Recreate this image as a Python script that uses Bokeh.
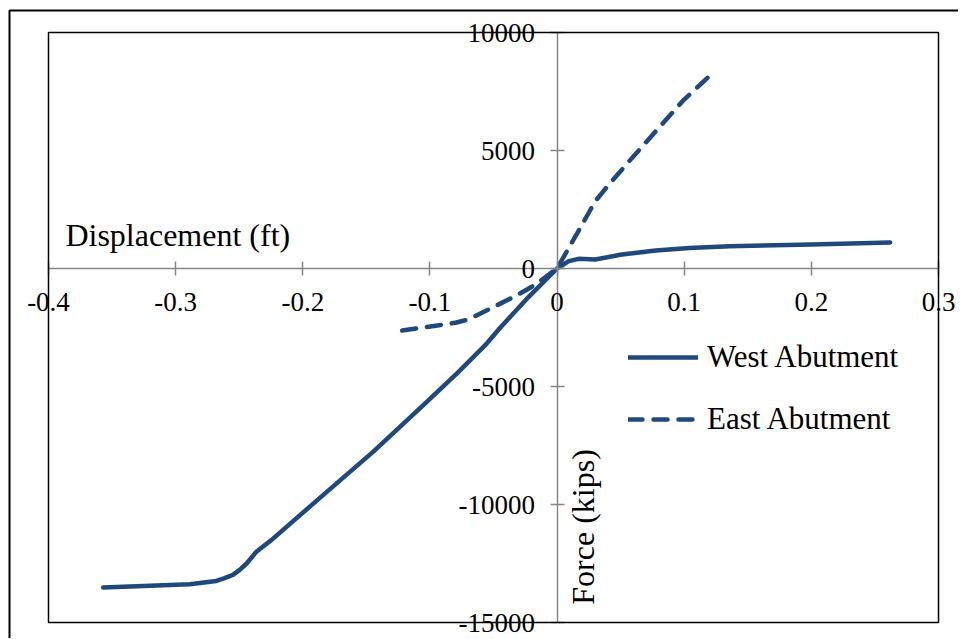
import math
from bokeh.plotting import figure
from bokeh.models import (LinearAxis, FixedTicker, Legend, LegendItem, Label, LabelSet,
                          ColumnDataSource, BoxAnnotation, Range1d)
from bokeh.embed import file_html
from bokeh.resources import INLINE

# ---- data ----
west_disp = [-0.357, -0.315, -0.289, -0.268, -0.262, -0.255, -0.2496, -0.244, -0.2365,
             -0.2245, -0.1836, -0.1443, -0.105, -0.0787, -0.0565, -0.0446, -0.0223, 0.0,
             0.0092, 0.017, 0.030, 0.051, 0.0777, 0.104, 0.1355, 0.2, 0.262]
west_force = [-13520, -13430, -13380, -13240, -13130, -12980, -12770, -12490, -12000,
              -11500, -9580, -7750, -5775, -4440, -3250, -2500, -1200, 0,
              310, 410, 380, 590, 760, 870, 945, 1017, 1100]

east_disp = [-0.1218, -0.080, -0.0697, -0.054, -0.0328, -0.017, 0.0, 0.0092, 0.0197,
             0.030, 0.0408, 0.0566, 0.0777, 0.0987, 0.1197]
east_force = [-2630, -2300, -2160, -1740, -1170, -680, 0, 870, 1860,
              2850, 3560, 4540, 5820, 7090, 8150]

x_ticks = [-0.4, -0.3, -0.2, -0.1, 0.0, 0.1, 0.2, 0.3]
x_tick_labels = ["-0.4", "-0.3", "-0.2", "-0.1", "0", "0.1", "0.2", "0.3"]
y_ticks = [-15000, -10000, -5000, 0, 5000, 10000]
y_tick_labels = ["-15000", "-10000", "-5000", "0", "5000", "10000"]
series_names = ["West Abutment", "East Abutment"]
x_title = "Displacement (ft)"
y_title = "Force (kips)"

X_MIN, X_MAX = x_ticks[0], x_ticks[-1]
Y_MIN, Y_MAX = y_ticks[0], y_ticks[-1]

# ---- layout (pixels on the canvas) ----
CW, CH = 958, 638
PA_L, PA_R, PA_T, PA_B = 48, 938, 32, 622      # plot area box
OUT_L, OUT_T = 9, 10                           # outer chart border

kx = (PA_R - PA_L) / (X_MAX - X_MIN)
ky = (PA_B - PA_T) / (Y_MAX - Y_MIN)
x_start = X_MIN - PA_L / kx
x_end = x_start + CW / kx
y_end = Y_MAX + PA_T / ky
y_start = y_end - CH / ky


def px_x(px):
    return x_start + px / kx


def px_y(py):
    return y_end - py / ky


LINE_COLOR = "#1F497D"
AXIS_GRAY = "#868686"
FONT = "Liberation Serif"

p = figure(width=CW, height=CH, x_range=Range1d(x_start, x_end),
           y_range=Range1d(y_start, y_end),
           x_axis_type=None, y_axis_type=None, output_backend="svg",
           toolbar_location=None, min_border=0)
p.grid.visible = False
p.outline_line_color = None
p.background_fill_color = "white"
p.border_fill_color = "white"

# outer chart border (only its left and top edges fall inside the window)
p.add_layout(BoxAnnotation(left=px_x(OUT_L), top=px_y(OUT_T),
                           right=px_x(CW + 40), bottom=px_y(CH + 40),
                           fill_alpha=0, line_color="black", line_alpha=1,
                           line_width=2, level="underlay"))

xaxis = LinearAxis(ticker=FixedTicker(ticks=x_ticks), bounds=(X_MIN, X_MAX))
xaxis.fixed_location = 0
yaxis = LinearAxis(ticker=FixedTicker(ticks=y_ticks), bounds=(Y_MIN, Y_MAX))
yaxis.fixed_location = 0
for ax in (xaxis, yaxis):
    ax.axis_line_color = AXIS_GRAY
    ax.axis_line_width = 1.5
    ax.major_tick_line_color = AXIS_GRAY
    ax.major_tick_line_width = 1.5
    ax.major_tick_in = 7
    ax.major_tick_out = 7
    ax.minor_tick_line_color = None
    ax.major_label_text_font_size = "0px"
    ax.major_label_text_alpha = 0
p.add_layout(xaxis, "below")
p.add_layout(yaxis, "left")

# plot-area border
p.add_layout(BoxAnnotation(left=X_MIN, right=X_MAX, bottom=Y_MIN, top=Y_MAX,
                           fill_alpha=0, line_color="black", line_alpha=1,
                           line_width=1.5, level="overlay"))

# tick labels
xsrc = ColumnDataSource(dict(x=x_ticks, y=[0] * len(x_ticks), text=x_tick_labels))
ysrc = ColumnDataSource(dict(x=[0] * len(y_ticks), y=y_ticks, text=y_tick_labels))
p.add_layout(LabelSet(x="x", y="y", text="text", source=xsrc, text_font=FONT,
                      text_font_size="27px", text_color="black", text_align="center",
                      text_baseline="top", y_offset=-24))
p.add_layout(LabelSet(x="x", y="y", text="text", source=ysrc, text_font=FONT,
                      text_font_size="27px", text_color="black", text_align="right",
                      text_baseline="middle", x_offset=-22))

r_w = p.line(west_disp, west_force, line_color=LINE_COLOR, line_width=4.5,
             line_cap="round", line_join="round")
r_e = p.line(east_disp, east_force, line_color=LINE_COLOR, line_width=4.5,
             line_dash="14 11", line_cap="round", line_join="round")

p.add_layout(Label(x=-0.3867, y=1430, text=x_title, text_font=FONT,
                   text_font_size="32px", text_color="black",
                   text_baseline="middle", text_align="left"))
p.add_layout(Label(x=0.020, y=-10950, text=y_title, text_font=FONT,
                   text_font_size="32px", text_color="black", angle=math.pi / 2,
                   text_baseline="middle", text_align="center"))

legend = Legend(items=[LegendItem(label=series_names[0], renderers=[r_w]),
                       LegendItem(label=series_names[1], renderers=[r_e])],
                location=(628, CH - PA_B + 185), padding=0, margin=0, spacing=26,
                glyph_width=70, glyph_height=30, label_height=30,
                label_standoff=9, label_text_font=FONT,
                label_text_font_size="31px", label_text_color="black",
                border_line_color=None, background_fill_alpha=0)
p.add_layout(legend)

open("out.html", "w").write(file_html(p, INLINE))
